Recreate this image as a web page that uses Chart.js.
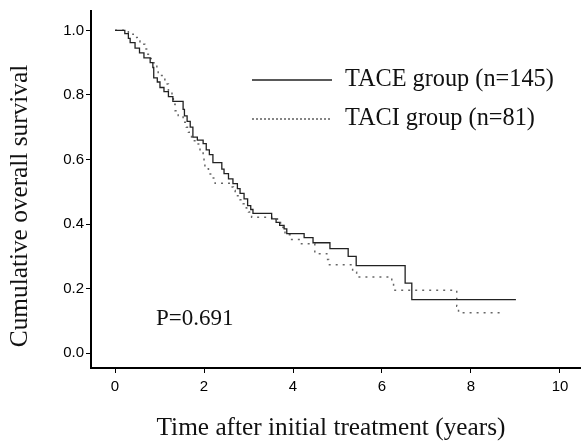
<!DOCTYPE html>
<html>
<head>
<meta charset="utf-8">
<script src="https://cdn.jsdelivr.net/npm/chart.js@4/dist/chart.umd.min.js"></script>
<style>
  html, body { margin: 0; padding: 0; background: #fff; }
</style>
</head>
<body>
<canvas id="km" width="582" height="441"></canvas>
<script>
// Kaplan-Meier steps (time in years, survival after the step)
const taceTimes = [0, 0.22, 0.30, 0.34, 0.45, 0.55, 0.65, 0.79, 0.85, 0.87, 0.95, 1.01, 1.10, 1.20, 1.30,
  1.53, 1.56, 1.62, 1.69, 1.75, 1.85, 1.98, 2.05, 2.12, 2.20, 2.40, 2.45, 2.55, 2.65, 2.75, 2.81, 2.90,
  2.98, 3.05, 3.10, 3.52, 3.62, 3.70, 3.80, 3.86, 4.25, 4.45, 4.83, 5.24, 5.42, 6.52, 6.67, 9.01];
const taceSurv = [1.0, 0.99, 0.975, 0.962, 0.945, 0.93, 0.915, 0.90, 0.885, 0.853, 0.84, 0.823, 0.81, 0.795, 0.78,
  0.755, 0.735, 0.718, 0.70, 0.669, 0.66, 0.649, 0.63, 0.615, 0.59, 0.57, 0.556, 0.54, 0.525, 0.51, 0.495, 0.478,
  0.457, 0.445, 0.433, 0.416, 0.405, 0.396, 0.385, 0.370, 0.358, 0.342, 0.324, 0.30, 0.271, 0.217, 0.166, 0.166];

const taciTimes = [0, 0.30, 0.41, 0.50, 0.56, 0.67, 0.71, 0.80, 0.86, 0.94, 0.97, 1.12, 1.20, 1.28, 1.31,
  1.35, 1.42, 1.53, 1.60, 1.65, 1.72, 1.84, 1.91, 1.98, 2.00, 2.02, 2.10, 2.17, 2.25, 2.60, 2.66, 2.70,
  2.81, 2.88, 2.95, 3.00, 3.07, 3.52, 3.65, 3.72, 3.78, 3.82, 3.95, 4.19, 4.49, 4.76, 4.80, 5.34, 5.43,
  6.22, 6.26, 7.68, 7.72, 8.71];
const taciSurv = [1.0, 0.988, 0.978, 0.967, 0.957, 0.942, 0.926, 0.913, 0.90, 0.88, 0.86, 0.834, 0.813, 0.792, 0.771,
  0.751, 0.736, 0.715, 0.70, 0.684, 0.658, 0.648, 0.627, 0.607, 0.591, 0.571, 0.555, 0.543, 0.526, 0.515, 0.504, 0.488,
  0.475, 0.463, 0.45, 0.437, 0.421, 0.416, 0.405, 0.39, 0.38, 0.367, 0.352, 0.339, 0.308, 0.29, 0.274, 0.251, 0.236,
  0.218, 0.195, 0.145, 0.125, 0.125];

const xTicks = [0, 2, 4, 6, 8, 10];
const yTicks = [0.0, 0.2, 0.4, 0.6, 0.8, 1.0];
const seriesLabels = ['TACE group (n=145)', 'TACI group (n=81)'];
const pValueText = 'P=0.691';
const xTitle = 'Time after initial treatment (years)';
const yTitle = 'Cumulative overall survival';

const toPoints = (ts, ss) => ts.map((t, i) => ({ x: t, y: ss[i] }));

const serif = '"Liberation Serif", "Times New Roman", serif';

// legend, p-value and axis titles drawn on top of the chart
const textPlugin = {
  id: 'kmText',
  afterDraw(chart) {
    const ctx = chart.ctx;
    ctx.save();
    ctx.fillStyle = '#111';
    ctx.textBaseline = 'middle';

    // legend samples
    const rows = [
      { y: 80, dash: [], color: '#222', width: 1.3 },
      { y: 119, dash: [2, 2], color: '#444', width: 1.3 }
    ];
    rows.forEach((r, i) => {
      ctx.beginPath();
      ctx.setLineDash(r.dash);
      ctx.strokeStyle = r.color;
      ctx.lineWidth = r.width;
      ctx.moveTo(252, r.y);
      ctx.lineTo(332, r.y);
      ctx.stroke();
      ctx.setLineDash([]);
      ctx.font = '24.3px ' + serif;
      ctx.textAlign = 'left';
      ctx.fillText(seriesLabels[i], 345, r.y);
    });

    ctx.font = '23px ' + serif;
    ctx.textAlign = 'left';
    ctx.fillText(pValueText, 156, 319);

    ctx.font = '25.3px ' + serif;
    ctx.textAlign = 'center';
    ctx.fillText(xTitle, 331, 428);

    ctx.translate(20, 206);
    ctx.rotate(-Math.PI / 2);
    ctx.fillText(yTitle, 0, 0);
    ctx.restore();
  }
};

new Chart(document.getElementById('km'), {
  type: 'line',
  data: {
    datasets: [
      {
        label: seriesLabels[0],
        data: toPoints(taceTimes, taceSurv),
        stepped: 'before',
        borderColor: '#222',
        borderWidth: 1.3,
        pointRadius: 0,
        fill: false
      },
      {
        label: seriesLabels[1],
        data: toPoints(taciTimes, taciSurv),
        stepped: 'before',
        borderColor: '#666',
        borderWidth: 1.5,
        borderDash: [2, 5],
        pointRadius: 0,
        fill: false
      }
    ]
  },
  options: {
    responsive: false,
    animation: false,
    layout: { padding: { top: 10, right: 2, left: 0, bottom: 0 } },
    plugins: { legend: { display: false }, tooltip: { enabled: false } },
    scales: {
      x: {
        type: 'linear',
        min: -0.54,
        max: 10.45,
        afterBuildTicks: s => { s.ticks = xTicks.map(v => ({ value: v })); },
        afterFit: s => { s.height = 73; },
        grid: { display: true, drawOnChartArea: false, drawTicks: true, tickLength: 5, color: '#000' },
        border: { display: true, color: '#000', width: 2 },
        ticks: {
          color: '#000',
          padding: 5,
          maxRotation: 0,
          font: { family: '"Liberation Sans", Arial, sans-serif', size: 15 },
          callback: v => String(v)
        }
      },
      y: {
        min: -0.046,
        max: 1.06,
        afterBuildTicks: s => { s.ticks = yTicks.map(v => ({ value: v })); },
        afterFit: s => { s.width = 91; },
        grid: { display: true, drawOnChartArea: false, drawTicks: true, tickLength: 5, color: '#000' },
        border: { display: true, color: '#000', width: 2 },
        ticks: {
          color: '#000',
          padding: 2,
          font: { family: '"Liberation Sans", Arial, sans-serif', size: 15 },
          callback: v => v.toFixed(1)
        }
      }
    }
  },
  plugins: [textPlugin]
});
</script>
</body>
</html>
